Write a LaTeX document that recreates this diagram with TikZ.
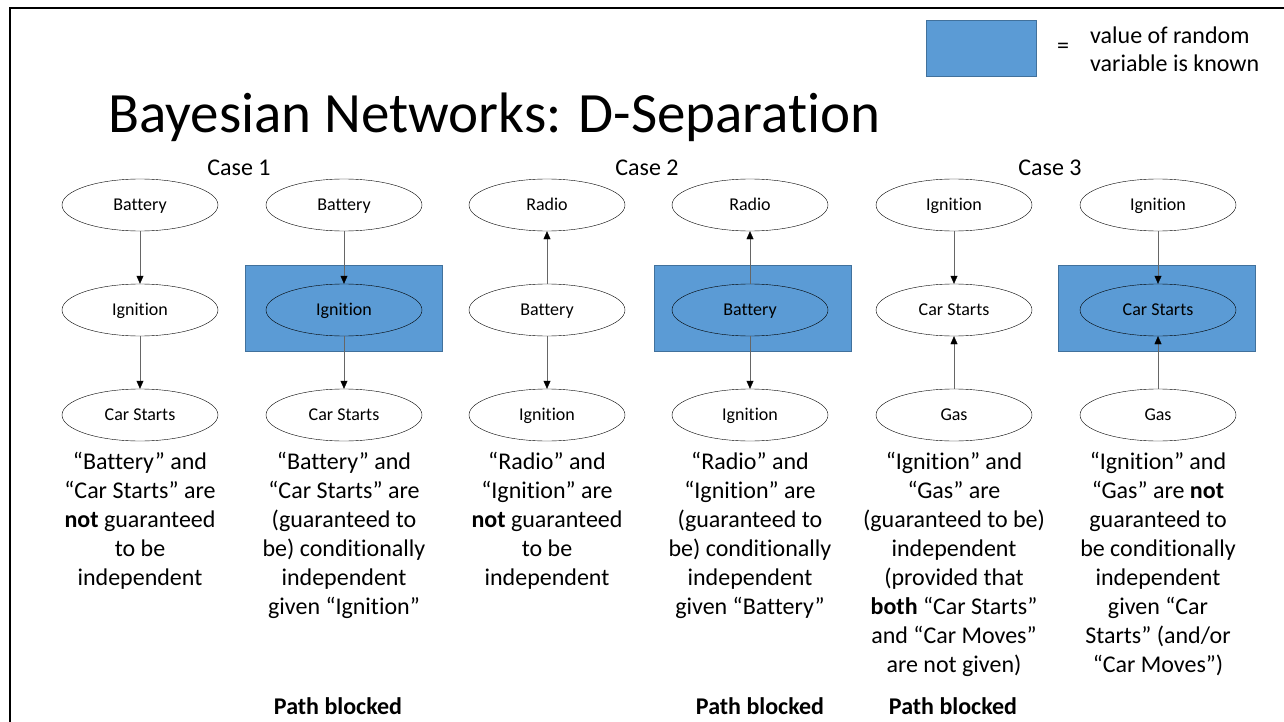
\documentclass[tikz,border=0pt]{standalone}
\usepackage{fontspec}
\setmainfont[Ligatures=NoCommon]{Carlito}
\usetikzlibrary{shapes.geometric,arrows.meta}
\definecolor{known}{HTML}{5B9BD5}
\definecolor{knownedge}{HTML}{41719C}
\begin{document}
\begin{tikzpicture}[x=1pt,y=-1pt,
    var/.style={ellipse,draw,thin,fill=white,minimum width=156pt,minimum height=52pt,inner sep=0pt,text height=13pt,text depth=3pt,font=\fontsize{18}{21}\selectfont},
    knownvar/.style={var,fill=known},
    knownbox/.style={rectangle,fill=known,draw=knownedge,thin,minimum width=197pt,minimum height=86pt,inner sep=0pt},
    edge/.style={draw=black!60,thin,-{Triangle[length=8pt,width=7pt,black]}},
    caption/.style={anchor=north,align=center,font=\fontsize{24}{29}\selectfont},
    casetitle/.style={font=\fontsize{24}{28}\selectfont},
    blocked/.style={font=\fontsize{24}{28}\selectfont\bfseries}]
    \useasboundingbox (0,0) rectangle (1284,722);
    \draw [line width=2.5pt] (10,722) -- (10,8) -- (1284,8);

    \node [anchor=base west, inner sep=0pt, font=\fontsize{57}{66}\selectfont] (title) at (108,133) {Bayesian Networks: D-Separation};
    \node [knownbox, minimum width=110pt, minimum height=56pt] (key) at (981,48) {};
    \node [font=\fontsize{24}{28}\selectfont] (eq) at (1063,48) {=};
    \node [anchor=west, inner sep=0pt, align=left, font=\fontsize{24}{28}\selectfont] (keytext) at (1090,49) {value of random\\variable is known};

    \node [casetitle] (case1) at (239,168) {Case 1};
    \node [casetitle] (case2) at (647,168) {Case 2};
    \node [casetitle] (case3) at (1050,168) {Case 3};

    \node [knownbox] (box2) at (344,308) {};
    \node [knownbox] (box4) at (753,308) {};
    \node [knownbox] (box6) at (1157,308) {};

    \node [var] (bat1) at (140,205) {Battery};
    \node [var] (ign1) at (140,310) {Ignition};
    \node [var] (car1) at (140,415) {Car Starts};
    \node [var] (bat2) at (344,205) {Battery};
    \node [knownvar] (ign2) at (344,310) {Ignition};
    \node [var] (car2) at (344,415) {Car Starts};

    \node [var] (rad3) at (547,205) {Radio};
    \node [var] (bat3) at (547,310) {Battery};
    \node [var] (ign3) at (547,415) {Ignition};
    \node [var] (rad4) at (750,205) {Radio};
    \node [knownvar] (bat4) at (750,310) {Battery};
    \node [var] (ign4) at (750,415) {Ignition};

    \node [var] (ign5) at (954,205) {Ignition};
    \node [var] (car5) at (954,310) {Car Starts};
    \node [var] (gas5) at (954,415) {Gas};
    \node [var] (ign6) at (1158,205) {Ignition};
    \node [knownvar] (car6) at (1158,310) {Car Starts};
    \node [var] (gas6) at (1158,415) {Gas};

    \draw [edge] (bat1) -- (ign1);
    \draw [edge] (ign1) -- (car1);
    \draw [edge] (bat2) -- (ign2);
    \draw [edge] (ign2) -- (car2);
    \draw [edge] (bat3) -- (rad3);
    \draw [edge] (bat3) -- (ign3);
    \draw [edge] (bat4) -- (rad4);
    \draw [edge] (bat4) -- (ign4);
    \draw [edge] (ign5) -- (car5);
    \draw [edge] (gas5) -- (car5);
    \draw [edge] (ign6) -- (car6);
    \draw [edge] (gas6) -- (car6);

    \node [caption] (text1) at (140,449) {“Battery” and\\“Car Starts” are\\\textbf{not} guaranteed\\to be\\independent};
    \node [caption] (text2) at (344,449) {“Battery” and\\“Car Starts” are\\(guaranteed to\\be) conditionally\\independent\\given “Ignition”};
    \node [caption] (text3) at (547,449) {“Radio” and\\“Ignition” are\\\textbf{not} guaranteed\\to be\\independent};
    \node [caption] (text4) at (750,449) {“Radio” and\\“Ignition” are\\(guaranteed to\\be) conditionally\\independent\\given “Battery”};
    \node [caption] (text5) at (954,449) {“Ignition” and\\“Gas” are\\(guaranteed to be)\\independent\\(provided that\\\textbf{both} “Car Starts”\\and “Car Moves”\\are not given)};
    \node [caption] (text6) at (1158,449) {“Ignition” and\\“Gas” are \textbf{not}\\guaranteed to\\be conditionally\\independent\\given “Car\\Starts” (and/or\\“Car Moves”)};

    \node [blocked] (block2) at (338,706) {Path blocked};
    \node [blocked] (block4) at (760,706) {Path blocked};
    \node [blocked] (block5) at (953,706) {Path blocked};
\end{tikzpicture}
\end{document}
